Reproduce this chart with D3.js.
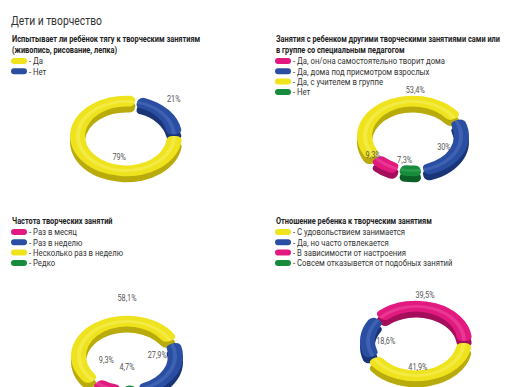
<!DOCTYPE html>
<html>
<head>
	<meta charset="utf-8">
	<title>Дети и творчество</title>
	<script src="https://d3js.org/d3.v7.min.js"></script>
	<style>
		body { margin: 0; background: #fff; }
		svg text { font-family: Roboto, 'Noto Sans', sans-serif; fill: #222; }
	</style>
</head>
<body>
<script>
	var W = 517, H = 387;

	var title = "Дети и творчество";

	var headings1 = ["Испытывает ли ребёнок тягу к творческим занятиям", "(живопись, рисование, лепка)"];
	var legend1 = ["Да", "Нет"];
	var values1 = [79, 21];
	var colors1 = ["yellow", "blue"];

	var headings2 = ["Занятия с ребенком другими творческими занятиями сами или", "в группе со специальным педагогом"];
	var legend2 = ["Да, он/она самостоятельно творит дома", "Да, дома под присмотром взрослых", "Да, с учителем в группе", "Нет"];
	var values2 = [9.3, 30, 53.4, 7.3];
	var colors2 = ["pink", "blue", "yellow", "green"];

	var headings3 = ["Частота творческих занятий"];
	var legend3 = ["Раз в месяц", "Раз в неделю", "Несколько раз в неделю", "Редко"];
	var values3 = [9.3, 27.9, 58.1, 4.7];
	var colors3 = ["pink", "blue", "yellow", "green"];

	var headings4 = ["Отношение ребенка к творческим занятиям"];
	var legend4 = ["С удовольствием занимается", "Да, но часто отвлекается", "В зависимости от настроения", "Совсем отказывется от подобных занятий"];
	var values4 = [41.9, 18.6, 39.5, 0];
	var colors4 = ["yellow", "blue", "pink", "green"];

	var palette = {
		yellow: { top: "#efe31e", side: "#b9ab0c", light: "#fbf57a" },
		blue:   { top: "#2a4fa2", side: "#1a3577", light: "#5d7fc8" },
		pink:   { top: "#e21a80", side: "#a40e5a", light: "#f064ac" },
		green:  { top: "#168c3c", side: "#0c5e27", light: "#4cb46a" }
	};

	// layout of each panel (ring order = legend indexes going clockwise)
	var panels = [
		{ heads: headings1, legend: legend1, values: values1, colors: colors1,
		  x0: 12, headY: 39, legY: 61, cx: 126, cy: 136, start: 12, pad: 0.03,
		  order: [1, 0], labels: [[193, 0.54], [43, 1.25]] },
		{ heads: headings2, legend: legend2, values: values2, colors: colors2,
		  x0: 276, headY: 39, legY: 61, cx: 413, cy: 136, start: -128, pad: 0.04,
		  order: [2, 1, 3, 0], labels: [[236, 0.86], [117, 0.62], [2, 1.14], [194, 0.62]] },
		{ heads: headings3, legend: legend3, values: values3, colors: colors3,
		  x0: 12, headY: 221, legY: 232, cx: 127, cy: 356, start: -138, pad: 0.06,
		  order: [2, 1, 3, 0], labels: [[256, 0.38], [88, 0.54], [0, 1.44], [180, 0.28]] },
		{ heads: headings4, legend: legend4, values: values4, colors: colors4,
		  x0: 276, headY: 221, legY: 232, cx: 416, cy: 341, start: -50, pad: 0.04,
		  order: [2, 0, 1, 3], labels: [[177, 0.64], [270, 0.54], [8, 1.15], [0, 0]] }
	];

	var rOuter = 56, rInner = 41, squash = 0.72, depth = 6;
	var condense = 0.86;

	var svg = d3.select("body").append("svg")
		.attr("width", W)
		.attr("height", H)
		.attr("viewBox", "0 0 " + W + " " + H);

	// narrow the glyphs (the original uses a condensed face)
	function squeeze(sel) {
		sel.each(function () {
			var t = d3.select(this);
			var x = +t.attr("x") || 0, y = +t.attr("y") || 0;
			var k = condense;
			var m = this.getCTM();
			var len = this.getComputedTextLength();
			var anchorStart = t.attr("text-anchor") !== "middle";
			if (anchorStart && m && m.e + x + len * k > W - 3) k = (W - 3 - m.e - x) / len;
			t.attr("x", 0).attr("y", 0)
				.attr("transform", "translate(" + x + "," + y + ") scale(" + k + ",1)");
		});
	}

	svg.append("text")
		.attr("x", 11)
		.attr("y", 25)
		.style("font-size", "12px")
		.style("fill", "#333")
		.text(title)
		.call(squeeze);

	var rad = Math.PI / 180;
	var pct = function (v) { return String(v).replace(".", ",") + "%"; };

	panels.forEach(function (p) {
		var g = svg.append("g");

		g.selectAll("text.head")
			.data(p.heads)
			.enter()
			.append("text")
			.attr("class", "head")
			.attr("x", p.x0)
			.attr("y", function (d, i) { return p.headY + 3 + i * 10.5; })
			.style("font-size", "8.6px")
			.style("font-weight", "bold")
			.text(function (d) { return d; })
			.call(squeeze);

		var rows = g.selectAll("g.leg")
			.data(p.legend)
			.enter()
			.append("g")
			.attr("class", "leg")
			.attr("transform", function (d, i) { return "translate(" + p.x0 + "," + (p.legY + i * 10.3) + ")"; });

		rows.append("rect")
			.attr("x", -1)
			.attr("y", -3)
			.attr("width", 16)
			.attr("height", 6)
			.attr("rx", 3)
			.attr("fill", function (d, i) { return palette[p.colors[i]].top; });

		rows.append("text")
			.attr("x", 17)
			.attr("y", 3.2)
			.style("font-size", "9px")
			.style("fill", "#333")
			.text(function (d) { return "- " + d; })
			.call(squeeze);

		// ring
		var items = p.order
			.map(function (k) { return { key: k, value: p.values[k], color: p.colors[k] }; })
			.filter(function (d) { return d.value > 0; });

		var pie = d3.pie()
			.sort(null)
			.value(function (d) { return d.value; })
			.startAngle(p.start * rad)
			.endAngle(p.start * rad + 2 * Math.PI)
			.padAngle(p.pad);

		var arcs = pie(items);

		var arc = d3.arc().innerRadius(rInner).outerRadius(rOuter).cornerRadius(6);
		var shine = d3.arc().innerRadius(rInner + 5).outerRadius(rInner + 9).cornerRadius(2);

		var ring = g.append("g")
			.attr("transform", "translate(" + p.cx + "," + p.cy + ")");

		ring.append("g")
			.attr("transform", "translate(0," + depth + ") scale(1," + squash + ")")
			.selectAll("path")
			.data(arcs)
			.enter()
			.append("path")
			.attr("d", arc)
			.attr("fill", function (d) { return palette[d.data.color].side; });

		var face = ring.append("g")
			.attr("transform", "scale(1," + squash + ")");

		face.selectAll("path.top")
			.data(arcs)
			.enter()
			.append("path")
			.attr("class", "top")
			.attr("d", arc)
			.attr("fill", function (d) { return palette[d.data.color].top; });

		face.selectAll("path.shine")
			.data(arcs)
			.enter()
			.append("path")
			.attr("class", "shine")
			.attr("d", shine)
			.attr("fill", function (d) { return palette[d.data.color].light; })
			.attr("opacity", 0.4);

		// percent labels
		ring.selectAll("text.pct")
			.data(items)
			.enter()
			.append("text")
			.attr("class", "pct")
			.attr("x", function (d) { var l = p.labels[d.key]; return rOuter * l[1] * Math.sin(l[0] * rad); })
			.attr("y", function (d) { var l = p.labels[d.key]; return -rOuter * l[1] * Math.cos(l[0] * rad) * squash + 3; })
			.attr("text-anchor", "middle")
			.style("font-size", "8.5px")
			.style("fill", "#555")
			.text(function (d) { return pct(d.value); })
			.call(squeeze);
	});
</script>
</body>
</html>
